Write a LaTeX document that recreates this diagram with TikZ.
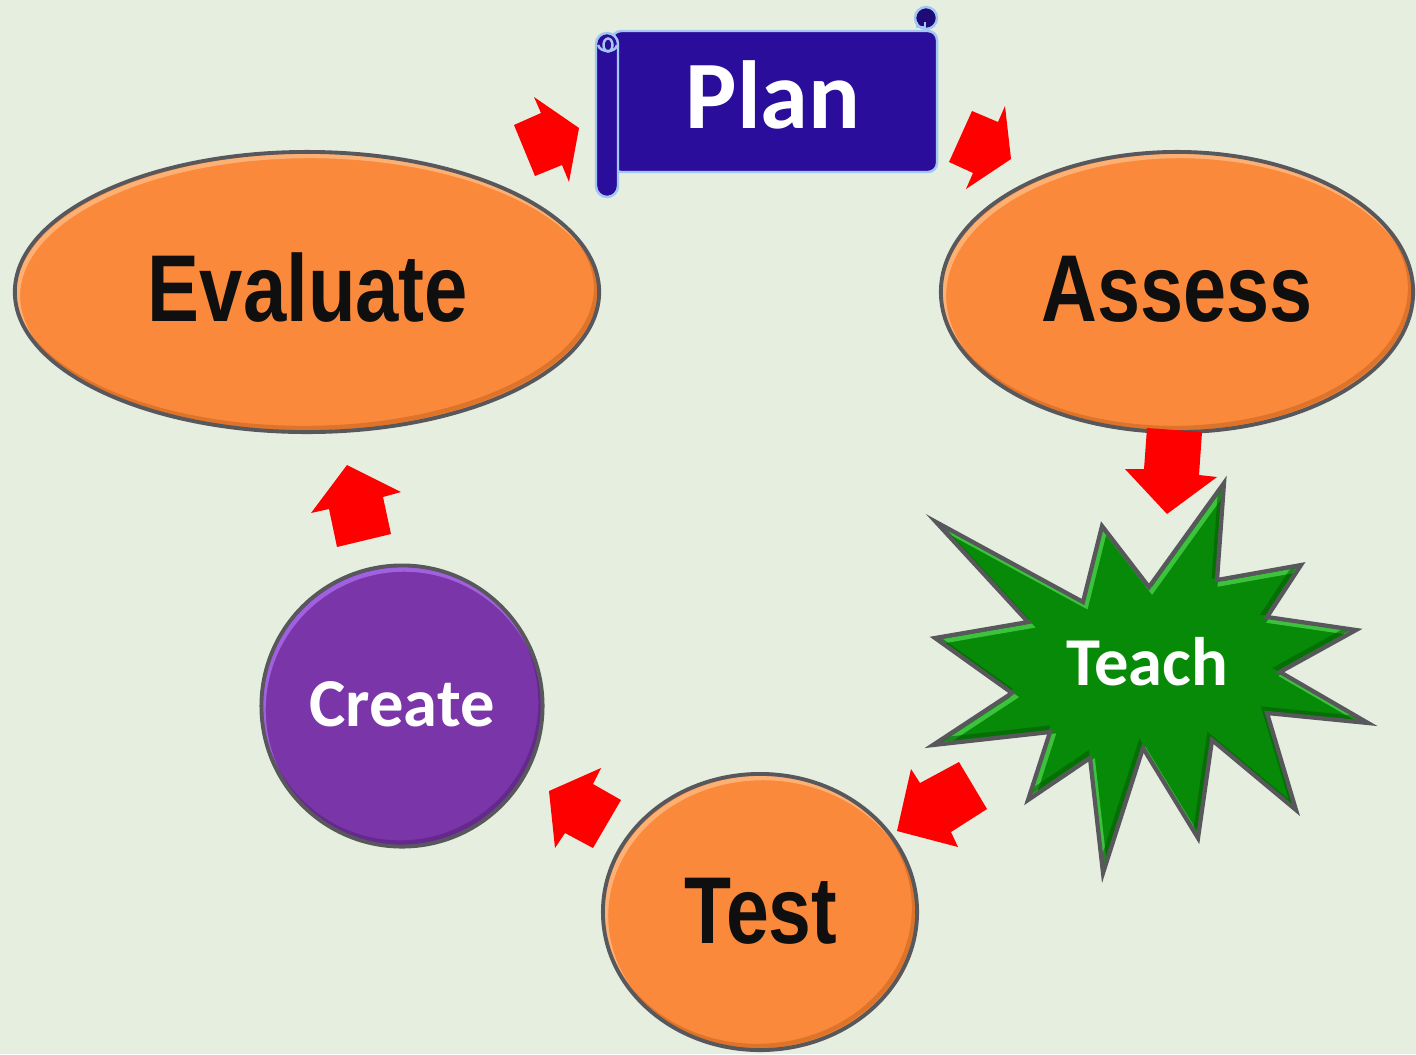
\documentclass[tikz,border=0pt]{standalone}
\usepackage{graphicx}
\usepackage{fontspec}
\newfontfamily\arialf{Liberation Sans}
\newfontfamily\calf{Carlito}
\usetikzlibrary{shapes.geometric}
\definecolor{bg}{HTML}{E6EEE0}
\definecolor{orng}{HTML}{FA893C}
\definecolor{orhl}{HTML}{FDB87E}
\definecolor{ordk}{HTML}{C7621C}
\definecolor{rim}{HTML}{58585C}
\definecolor{purp}{HTML}{7A36A8}
\definecolor{purhl}{HTML}{A868EA}
\definecolor{purdk}{HTML}{55207A}
\definecolor{grn}{HTML}{078A07}
\definecolor{grnhl}{HTML}{46CC46}
\definecolor{grndk}{HTML}{045A04}
\definecolor{planblue}{HTML}{2A0D9A}
\definecolor{curlblue}{HTML}{1E0B78}
\definecolor{scrolledge}{HTML}{A4C6F2}
\definecolor{arrowred}{HTML}{FF0000}
\begin{document}
\begin{tikzpicture}[x=0.01cm,y=-0.01cm,
  bubble/.style={draw=rim, line width=1.1pt, inner sep=0pt},
  lite/.style={line width=1.3pt, opacity=0.85},
  dark/.style={line width=1.3pt, opacity=0.55},
  blockarrow/.style={fill=arrowred, draw=none},
  bigword/.style={font=\arialf\bfseries\fontsize{27}{27}\selectfont, text=black!94, anchor=base, inner sep=0pt},
  smallword/.style={font=\calf\bfseries\fontsize{19.5}{19.5}\selectfont, text=white, anchor=base, inner sep=0pt},
  planword/.style={font=\calf\bfseries\fontsize{27.5}{27.5}\selectfont, text=white, anchor=base, inner sep=0pt},
  scroll/.style={fill=planblue, draw=scrolledge, line width=0.7pt}]

\fill[bg] (0,0) rectangle (1416,1054);
\useasboundingbox (0,0) rectangle (1416,1054);

% ---- shapes (fills) ----
\node[ellipse, fill=orng, inner sep=0pt, minimum width=5.84cm, minimum height=2.8cm] (evaluate) at (307,292) {};
\node[ellipse, fill=orng, inner sep=0pt, minimum width=4.72cm, minimum height=2.8cm] (assess) at (1177,292) {};
\node[ellipse, fill=orng, inner sep=0pt, minimum width=3.14cm, minimum height=2.76cm] (test) at (760,912) {};
\node[circle, fill=purp, inner sep=0pt, minimum size=2.81cm] (create) at (402,706) {};

% bevel bands
\begin{scope}
  \clip (307,292) ellipse[x radius=2.92cm, y radius=1.4cm];
  \draw[lite, orhl, shift={(3,4)}] (307,292) ellipse[x radius=2.92cm, y radius=1.4cm];
  \draw[dark, ordk, shift={(-3,-4)}] (307,292) ellipse[x radius=2.92cm, y radius=1.4cm];
\end{scope}
\begin{scope}
  \clip (1177,292) ellipse[x radius=2.36cm, y radius=1.4cm];
  \draw[lite, orhl, shift={(3,4)}] (1177,292) ellipse[x radius=2.36cm, y radius=1.4cm];
  \draw[dark, ordk, shift={(-3,-4)}] (1177,292) ellipse[x radius=2.36cm, y radius=1.4cm];
\end{scope}
\begin{scope}
  \clip (760,912) ellipse[x radius=1.57cm, y radius=1.38cm];
  \draw[lite, orhl, shift={(3,4)}] (760,912) ellipse[x radius=1.57cm, y radius=1.38cm];
  \draw[dark, ordk, shift={(-3,-4)}] (760,912) ellipse[x radius=1.57cm, y radius=1.38cm];
\end{scope}
\begin{scope}
  \clip (402,706) circle[radius=1.405cm];
  \draw[lite, purhl, shift={(2,4)}] (402,706) circle[radius=1.405cm];
  \draw[dark, purdk, shift={(-2,-4)}] (402,706) circle[radius=1.405cm];
\end{scope}

% rims
\node[bubble, ellipse, minimum width=5.84cm, minimum height=2.8cm] at (evaluate.center) {};
\node[bubble, ellipse, minimum width=4.72cm, minimum height=2.8cm] at (assess.center) {};
\node[bubble, ellipse, minimum width=3.14cm, minimum height=2.76cm] at (test.center) {};
\node[bubble, circle, minimum size=2.81cm] at (create.center) {};

% star
\def\starpath{(936,522) -- (1083,602) -- (1102,526) -- (1149,587) -- (1224,483) -- (1217,580)
  -- (1301,565) -- (1267,617) -- (1356,630) -- (1280,672) -- (1368,723) -- (1267,713)
  -- (1296,810) -- (1212,740) -- (1198,838) -- (1143,748) -- (1103,873) -- (1090,758)
  -- (1028,800) -- (1050,732) -- (933,745) -- (1012,693) -- (935,638) -- (1028,622) -- cycle}
\fill[grn] \starpath;
\begin{scope}
  \clip \starpath;
  \draw[lite, grnhl, line join=miter, shift={(3,4)}] \starpath;
  \draw[dark, grndk, line join=miter, shift={(-3,-4)}] \starpath;
\end{scope}
\draw[rim, line width=1.2pt, line join=miter] \starpath;

% scroll (Plan)
\draw[scroll, rounded corners=0.09cm] (612,31) -- (937,31) -- (937,172) -- (612,172) -- cycle;
\filldraw[fill=curlblue, draw=scrolledge, line width=0.7pt] (926,18) circle[radius=0.11cm];
\draw[scrolledge, line width=0.7pt] (917,22) -- (917,27) -- (925,27) -- (925,22);
\draw[scroll, rounded corners=0.11cm] (596,33) rectangle (618,197);
\draw[scrolledge, line width=0.7pt] (598,45) .. controls (600,53) and (616,53) .. (617,45);
\draw[scrolledge, line width=0.7pt] (608,45) ellipse[x radius=0.045cm, y radius=0.065cm];

% ---- labels ----
\node[bigword] (evaluate-label) at (308,321) {\scalebox{0.82}[1]{Evaluate}};
\node[bigword] (assess-label) at (1177,321) {\scalebox{0.815}[1]{Assess}};
\node[bigword] (test-label) at (761,943) {\scalebox{0.81}[1]{Test}};
\node[smallword] (create-label) at (402,726) {Create};
\node[smallword] (teach) at (1147,685) {Teach};
\node[planword] (plan) at (773,128) {Plan};

% ---- block arrows ----
\fill[blockarrow] (514,125) -- (541,113) -- (534,97) -- (579,128) -- (569,182) -- (562,165) -- (535,176) -- cycle;
\fill[blockarrow] (972,111) -- (998,122) -- (1005,106) -- (1011,159) -- (966,189) -- (973,173) -- (949,162) -- cycle;
\fill[blockarrow] (1147,428) -- (1202,432) -- (1199,475) -- (1217,477) -- (1167,514) -- (1125,469) -- (1144,469) -- cycle;
\fill[blockarrow] (959,762) -- (987,809) -- (951,832) -- (958,847) -- (897,831) -- (911,769) -- (920,783) -- cycle;
\fill[blockarrow] (601,768) -- (593,784) -- (621,800) -- (593,848) -- (565,833) -- (555,848) -- (549,791) -- cycle;
\fill[blockarrow] (347,465) -- (401,492) -- (383,497) -- (391,534) -- (337,547) -- (329,509) -- (311,513) -- cycle;
\end{tikzpicture}
\end{document}
